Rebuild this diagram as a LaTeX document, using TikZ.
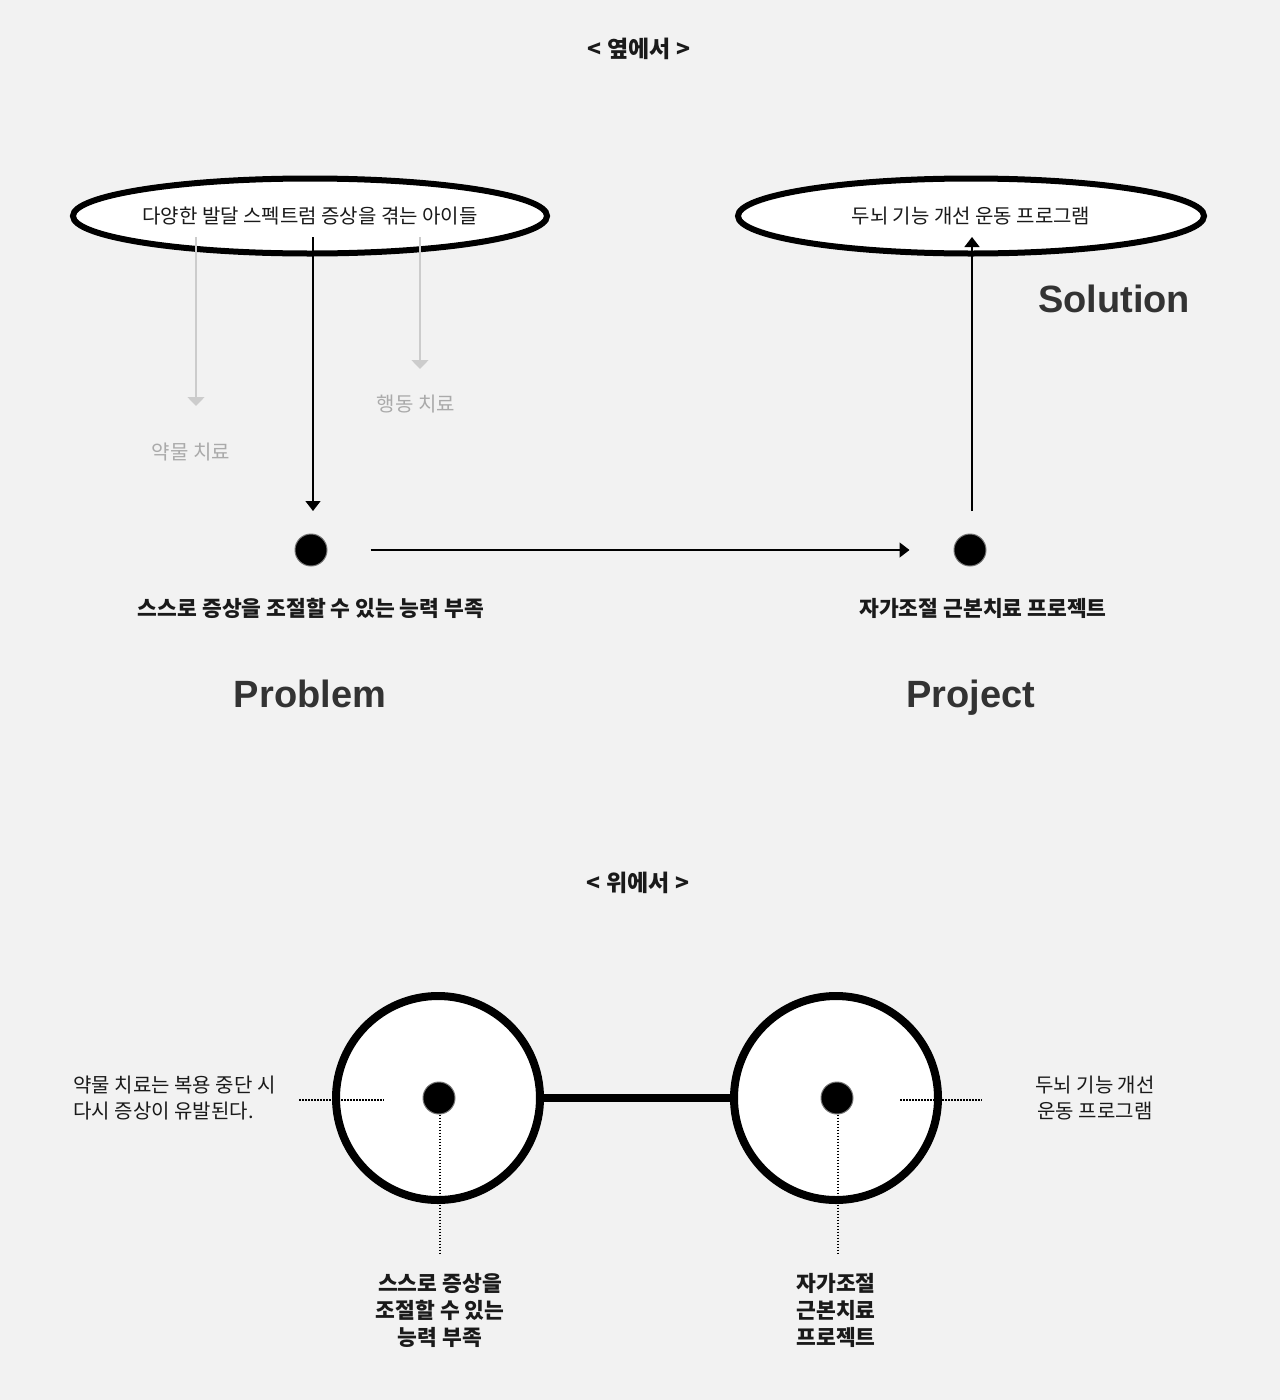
\documentclass[tikz,border=0pt]{standalone}
\usepackage{fontspec}
\setmainfont{Noto Sans CJK KR}
\newfontfamily\latinfont{Liberation Sans}
\usepackage{tikz}
\usetikzlibrary{arrows.meta, positioning, shapes}
\definecolor{paper}{HTML}{F2F2F2}
\definecolor{tipgray}{HTML}{CCCCCC}
\definecolor{labgray}{HTML}{AAAAAA}
\definecolor{ink}{HTML}{1A1A1A}
\definecolor{headink}{HTML}{333333}

\begin{document}
\begin{tikzpicture}[x=1pt, y=-1pt,
    oval/.style={ellipse, draw=black, fill=white, line width=6pt,
                 minimum width=466pt, minimum height=75pt, inner sep=0pt,
                 font=\fontsize{20}{24}\selectfont, text=ink},
    ring/.style={circle, draw=black, fill=white, line width=8pt,
                 minimum size=204pt, inner sep=0pt},
    spot/.style={circle, draw=black!55, fill=black, line width=1pt,
                 minimum size=32pt, inner sep=0pt},
    title/.style={font=\fontsize{23}{27}\selectfont\bfseries, text=ink},
    lab/.style={font=\fontsize{21.5}{27}\selectfont\bfseries, text=ink, align=center},
    note/.style={font=\fontsize{20}{26}\selectfont, text=ink},
    soft/.style={font=\fontsize{20}{24}\selectfont, text=labgray},
    head/.style={font=\fontsize{38}{44}\selectfont\latinfont\bfseries, text=headink, anchor=base},
    arr/.style={draw=black, line width=1.5pt, -{Triangle[width=15pt,length=10pt]}},
    grayarr/.style={draw=tipgray, line width=1.5pt, -{Triangle[width=17pt,length=9pt]}},
    dots/.style={draw=black, line width=1.6pt, dash pattern=on 1.6pt off 1.4pt}]
    \fill[paper] (0,0) rectangle (1280,1400);
    \useasboundingbox (0,0) rectangle (1280,1400);
    % side view
    \node[title] (sideTitle) at (639,49) {< 옆에서 >};
    \node[oval] (kids) at (310,216) {다양한 발달 스펙트럼 증상을 겪는 아이들};
    \node[oval] (program) at (971,216) {두뇌 기능 개선 운동 프로그램};
    \node[head] (solution) at (1114,312) {Solution};
    \node[soft] (drug) at (191,452) {약물 치료};
    \node[soft] (behav) at (416,404) {행동 치료};
    \node[spot] (lack) at (311,550) {};
    \node[spot] (selfctl) at (970,550) {};
    \node[lab] (lackTxt) at (311,608) {스스로 증상을 조절할 수 있는 능력 부족};
    \node[lab] (selfTxt) at (983,608) {자가조절 근본치료 프로젝트};
    \node[head] (problem) at (310,707) {Problem};
    \node[head] (project) at (971,707) {Project};
    \coordinate (drugTop) at (196,237);
    \coordinate (drugEnd) at (196,406);
    \coordinate (behavTop) at (420,237);
    \coordinate (behavEnd) at (420,369);
    \coordinate (kidsOut) at (313,237);
    \coordinate (lackIn) at (313,511);
    \coordinate (selfOut) at (972,511);
    \coordinate (programIn) at (972,237);
    \draw[grayarr] (drugTop) -- (drugEnd);
    \draw[grayarr] (behavTop) -- (behavEnd);
    \draw[arr] (kidsOut) -- (lackIn);
    \draw[arr, shorten <=43pt, shorten >=44pt] (lack) -- (selfctl);
    \draw[arr] (selfOut) -- (programIn);
    % top view
    \node[title] (topTitle) at (638,883) {< 위에서 >};
    \node[ring] (ringL) at (438,1098) {};
    \node[ring] (ringR) at (836,1098) {};
    \draw[line width=8pt] (ringL) -- (ringR);
    \node[spot] (dotL) at (439,1098) {};
    \node[spot] (dotR) at (837,1098) {};
    \node[note, align=left, anchor=west] (drugNote) at (70,1098) {약물 치료는 복용 중단 시\\다시 증상이 유발된다.};
    \node[note, align=center] (progNote) at (1095,1098) {두뇌 기능 개선\\운동 프로그램};
    \node[lab] (lackNote) at (440,1310) {스스로 증상을\\조절할 수 있는\\능력 부족};
    \node[lab] (selfNote) at (836,1310) {자가조절\\근본치료\\프로젝트};
    \coordinate (hlA) at (299,1100);
    \coordinate (hlB) at (384,1100);
    \coordinate (vlA) at (440,1253);
    \coordinate (hrA) at (900,1100);
    \coordinate (hrB) at (982,1100);
    \coordinate (vrA) at (838,1253);
    \draw[dots] (hlA) -- (hlB);
    \draw[dots] (dotL.south -| vlA) -- (vlA);
    \draw[dots] (hrA) -- (hrB);
    \draw[dots] (dotR.south -| vrA) -- (vrA);
\end{tikzpicture}
\end{document}
